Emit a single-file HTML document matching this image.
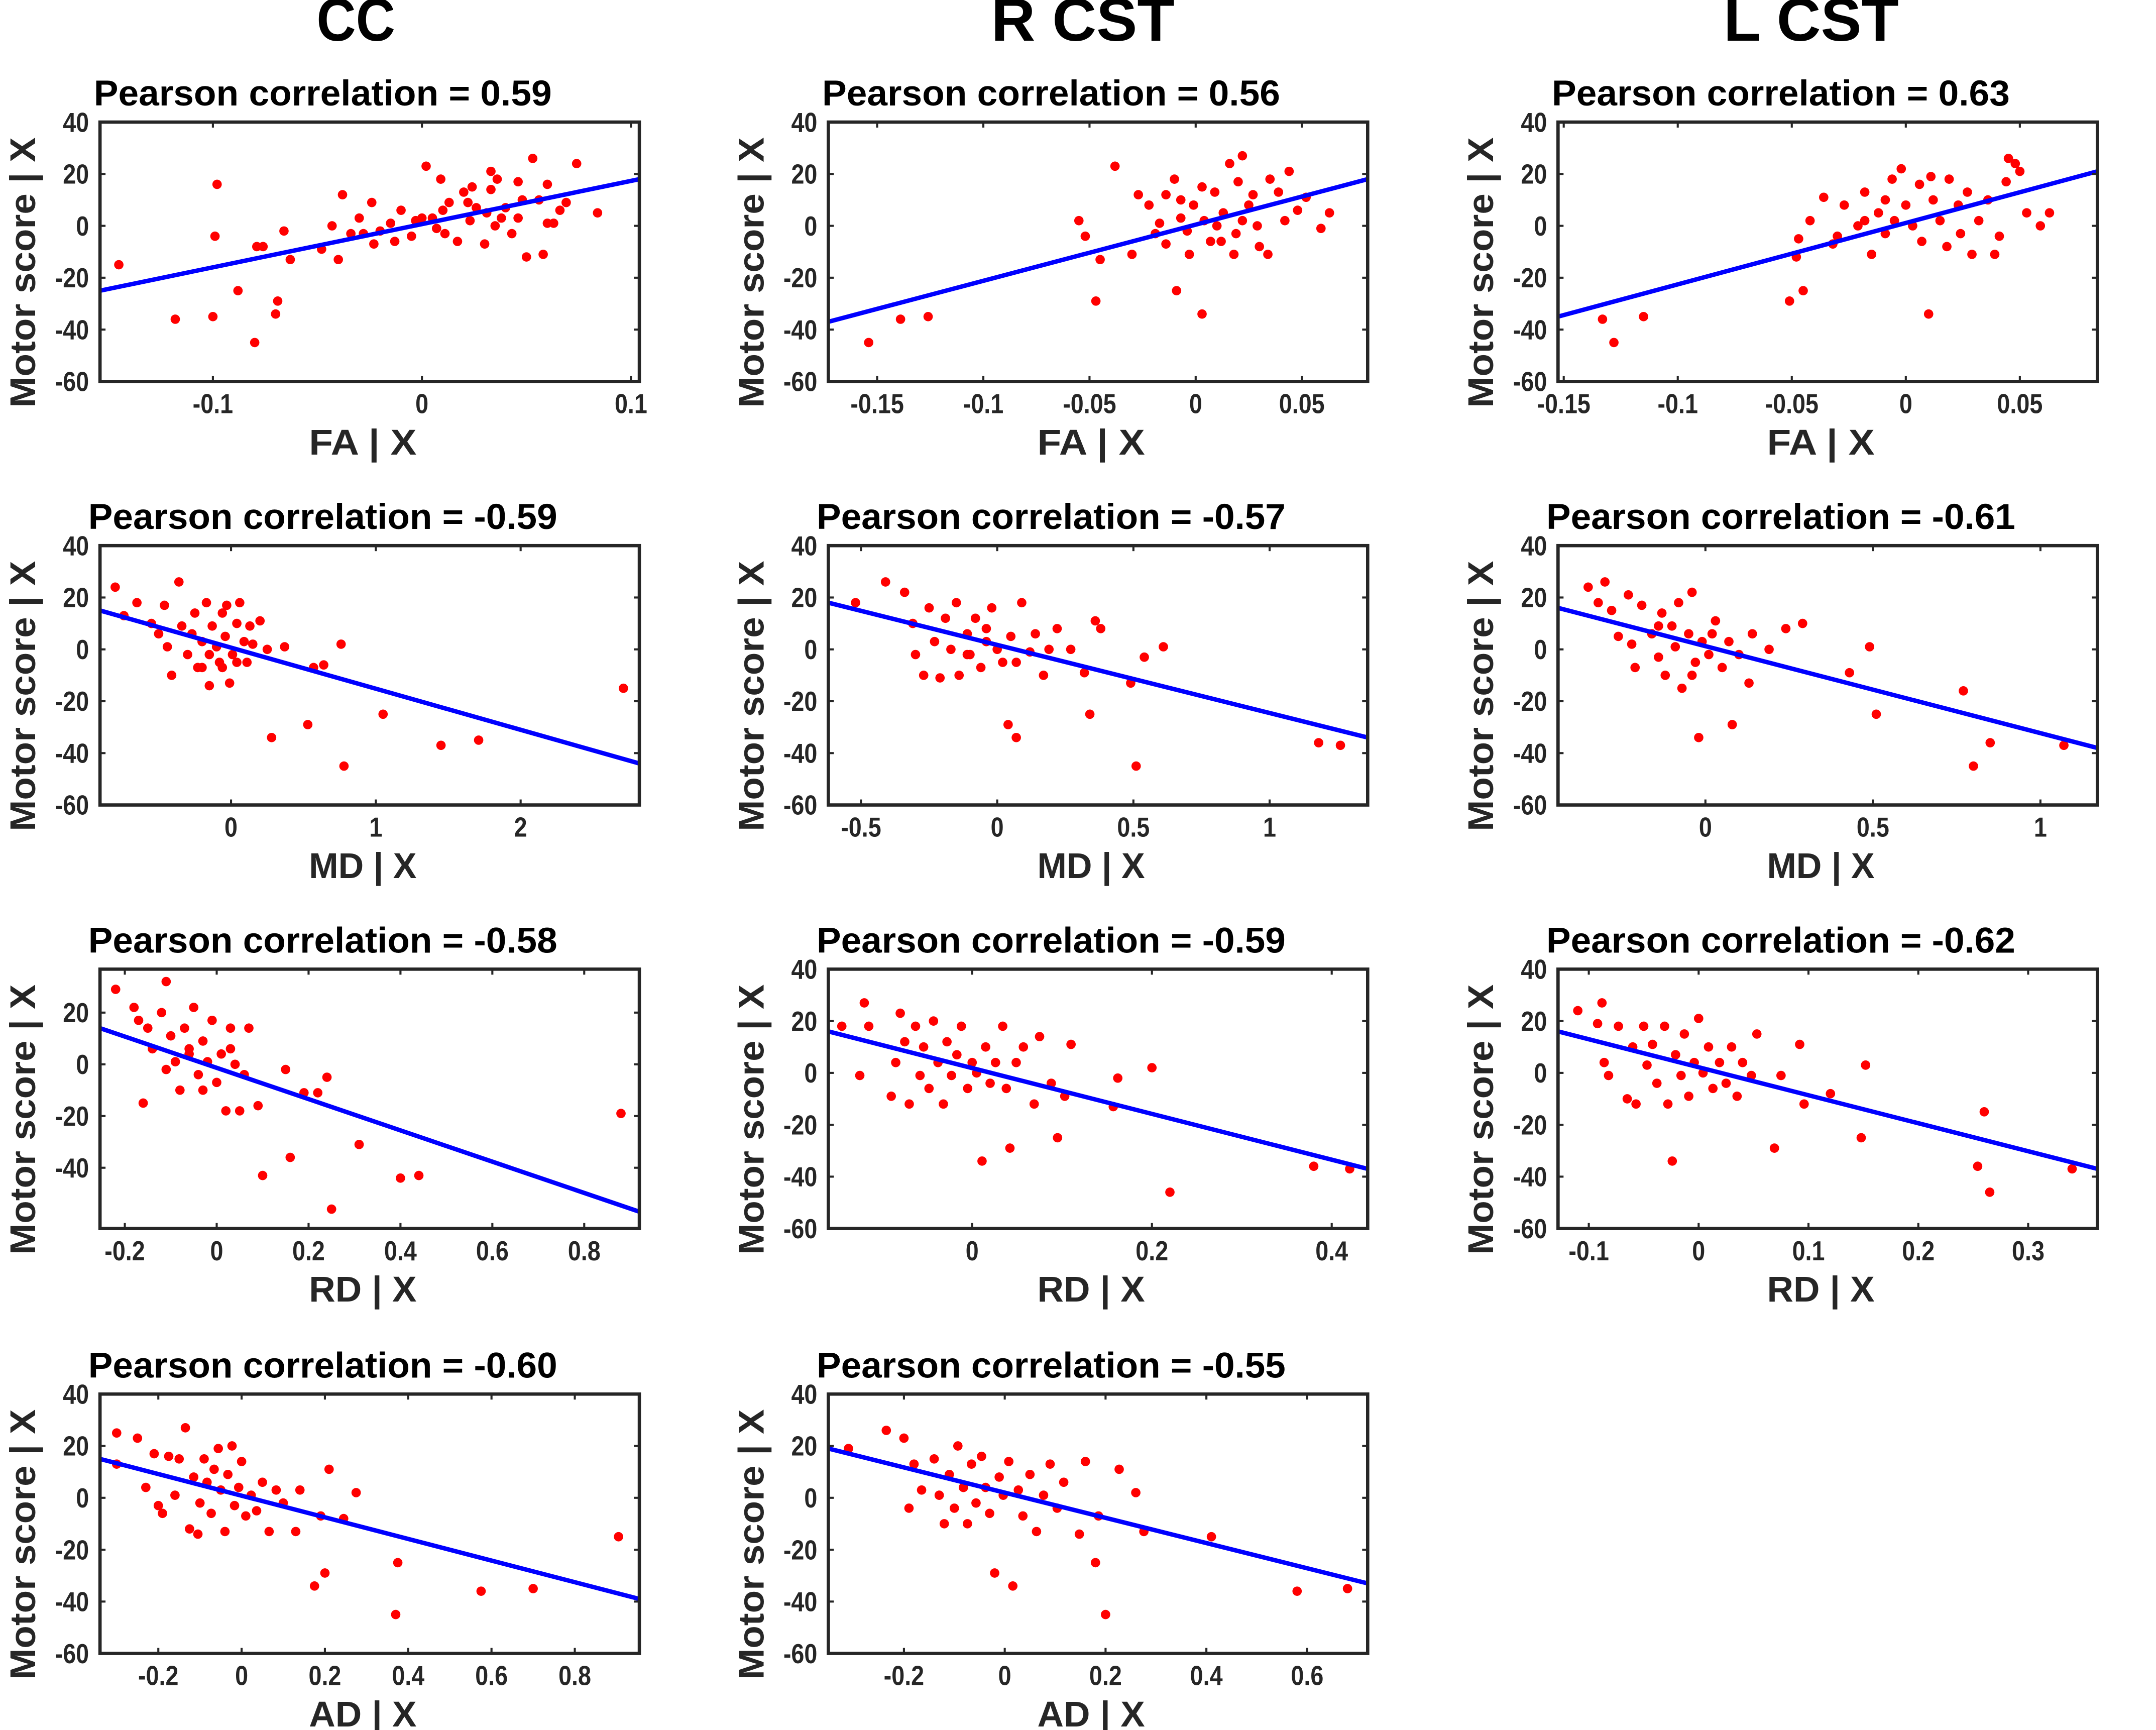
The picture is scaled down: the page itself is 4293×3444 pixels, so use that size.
<!DOCTYPE html>
<html><head><meta charset="utf-8"><style>
html,body{margin:0;padding:0;background:#fff;width:4293px;height:3444px;overflow:hidden;}
svg{display:block;position:absolute;left:0;top:0;}
text{font-family:"Liberation Sans Narrow","Liberation Sans",sans-serif;font-weight:bold;}
</style></head><body>
<svg id="fig" width="4293" height="3444" viewBox="-1.5 0.5 1563 1254" preserveAspectRatio="none" xmlns="http://www.w3.org/2000/svg">
<rect x="-10" y="-10" width="1600" height="1300" fill="#fff"/>
<text x="256.5" y="30" font-size="44" text-anchor="middle" textLength="57" lengthAdjust="spacingAndGlyphs">CC</text>
<text x="783.5" y="30" font-size="44" text-anchor="middle" textLength="133" lengthAdjust="spacingAndGlyphs">R CST</text>
<text x="1311.5" y="30" font-size="44" text-anchor="middle" textLength="127" lengthAdjust="spacingAndGlyphs">L CST</text>
</svg>
<script>
// ---- data (data units) ----
const pts_cc_fa=[[-0.145,-15],[-0.118,-36],[-0.1,-35],[-0.098,16],[-0.099,-4],[-0.088,-25],[-0.079,-8],[-0.076,-8],[-0.080,-45],[-0.069,-29],[-0.07,-34],[-0.066,-2],[-0.063,-13],[-0.048,-9],[-0.043,0],[-0.038,12],[-0.040,-13],[-0.030,3],[-0.024,9],[-0.023,-7],[-0.015,1],[-0.01,6],[-0.005,-4],[0.002,23],[0.005,3],[0.009,18],[0.013,9],[0.017,-6],[0.02,13],[0.023,2],[0.026,7],[0.03,-7],[0.033,14],[0.036,18],[0.04,7],[0.043,-3],[0.048,10],[0.05,-12],[0.053,26],[0.056,10],[0.058,-11],[0.06,16],[0.063,1],[0.066,6],[0.069,9],[0.074,24],[0.084,5],[-0.003,2],[0.007,-1],[0.01,6],[0.022,9],[0.024,15],[0.031,5],[0.035,0],[0.011,-3],[0,3],[-0.013,-6],[-0.02,-2],[-0.028,-3],[-0.034,-3],[0.038,3],[0.046,3],[0.06,1],[0.046,17],[0.033,21]];
const pts_r_fa=[[-0.154,-45],[-0.139,-36],[-0.126,-35],[-0.055,2],[-0.052,-4],[-0.047,-29],[-0.045,-13],[-0.038,23],[-0.03,-11],[-0.027,12],[-0.022,8],[-0.019,-3],[-0.017,1],[-0.014,12],[-0.010,18],[-0.009,-25],[-0.007,3],[-0.004,-2],[-0.001,8],[0.003,-34],[0.004,2],[0.007,-6],[0.009,13],[0.01,0],[0.013,5],[0.016,24],[0.018,-11],[0.019,-3],[0.02,17],[0.022,27],[0.025,8],[0.029,0],[0.03,-8],[0.034,-11],[0.035,18],[0.039,13],[0.042,2],[0.044,21],[0.048,6],[0.052,11],[0.059,-1],[0.063,5],[-0.014,-7],[-0.003,-11],[0.012,-6],[0.022,2],[-0.007,10],[0.003,15],[0.027,12]];
const pts_l_fa=[[-0.133,-36],[-0.128,-45],[-0.115,-35],[-0.048,-12],[-0.051,-29],[-0.045,-25],[-0.047,-5],[-0.042,2],[-0.036,11],[-0.032,-7],[-0.03,-4],[-0.027,8],[-0.021,0],[-0.018,13],[-0.015,-11],[-0.012,5],[-0.009,-3],[-0.006,18],[-0.005,2],[-0.002,22],[0,8],[0.003,0],[0.006,16],[0.007,-6],[0.01,-34],[0.012,10],[0.015,2],[0.018,-8],[0.019,18],[0.023,8],[0.024,-3],[0.027,13],[0.029,-11],[0.032,2],[0.036,10],[0.039,-11],[0.041,-4],[0.044,17],[0.045,26],[0.048,24],[0.05,21],[0.053,5],[0.059,0],[0.063,5],[0.011,19],[-0.018,2],[-0.009,10]];
const pts_cc_md=[[-0.8,24],[-0.74,13],[-0.65,18],[-0.55,10],[-0.5,6],[-0.46,17],[-0.44,1],[-0.41,-10],[-0.36,26],[-0.34,9],[-0.3,-2],[-0.25,14],[-0.23,-7],[-0.2,3],[-0.17,18],[-0.15,-14],[-0.13,9],[-0.1,1],[-0.08,-5],[-0.06,14],[-0.04,5],[-0.01,-13],[0.01,-2],[0.04,10],[0.06,18],[0.09,3],[0.11,-5],[0.15,2],[0.2,11],[0.25,0],[0.28,-34],[0.37,1],[0.53,-29],[0.57,-7],[0.64,-6],[0.76,2],[0.78,-45],[1.05,-25],[1.45,-37],[1.71,-35],[2.71,-15],[-0.27,6],[-0.15,-2],[-0.06,-7],[0.04,-5],[0.13,9],[-0.03,17],[-0.2,-7]];
const pts_r_md=[[-0.52,18],[-0.41,26],[-0.34,22],[-0.31,10],[-0.3,-2],[-0.27,-10],[-0.25,16],[-0.23,3],[-0.21,-11],[-0.19,12],[-0.17,0],[-0.15,18],[-0.14,-10],[-0.11,6],[-0.1,-2],[-0.08,12],[-0.06,-7],[-0.04,3],[-0.02,16],[0,0],[0.02,-5],[0.04,-29],[0.05,5],[0.07,-34],[0.09,18],[0.12,-1],[0.14,6],[0.17,-10],[0.19,0],[0.22,8],[0.27,0],[0.32,-9],[0.34,-25],[0.36,11],[0.38,8],[0.49,-13],[0.51,-45],[0.54,-3],[0.61,1],[1.18,-36],[1.26,-37],[-0.11,-2],[-0.04,8],[0.07,-5]];
const pts_l_md=[[-0.35,24],[-0.32,18],[-0.3,26],[-0.28,15],[-0.26,5],[-0.23,21],[-0.22,2],[-0.21,-7],[-0.19,17],[-0.16,6],[-0.14,-3],[-0.13,14],[-0.12,-10],[-0.1,9],[-0.09,1],[-0.08,18],[-0.07,-15],[-0.05,6],[-0.04,22],[-0.03,-5],[-0.02,-34],[-0.01,3],[0.01,-2],[0.03,11],[0.05,-7],[0.07,3],[0.08,-29],[0.1,-2],[0.13,-13],[0.14,6],[0.19,0],[0.24,8],[0.29,10],[0.43,-9],[0.49,1],[0.51,-25],[0.77,-16],[0.8,-45],[0.85,-36],[1.07,-37],[0.02,6],[-0.14,9],[-0.04,-10]];
const pts_cc_rd=[[-0.22,29],[-0.18,22],[-0.17,17],[-0.15,14],[-0.16,-15],[-0.14,6],[-0.12,20],[-0.11,32],[-0.1,11],[-0.09,1],[-0.08,-10],[-0.07,14],[-0.06,4],[-0.05,22],[-0.04,-4],[-0.03,9],[-0.02,1],[-0.01,17],[0,-7],[0.01,4],[0.02,-18],[0.03,6],[0.04,0],[0.05,-18],[0.06,-4],[0.07,14],[0.09,-16],[0.1,-43],[0.15,-2],[0.16,-36],[0.19,-11],[0.22,-11],[0.24,-5],[0.25,-56],[0.31,-31],[0.4,-44],[0.44,-43],[0.88,-19],[-0.06,6],[-0.03,-10],[0.03,14],[-0.11,-2]];
const pts_r_rd=[[-0.145,18],[-0.12,27],[-0.115,18],[-0.125,-1],[-0.09,-9],[-0.085,4],[-0.08,23],[-0.075,12],[-0.07,-12],[-0.063,18],[-0.058,-1],[-0.054,10],[-0.048,-6],[-0.043,20],[-0.038,4],[-0.032,-12],[-0.028,12],[-0.023,-1],[-0.017,7],[-0.012,18],[-0.005,-6],[0,4],[0.005,0],[0.011,-34],[0.015,10],[0.02,-4],[0.026,4],[0.034,18],[0.038,-6],[0.042,-29],[0.049,4],[0.057,10],[0.069,-12],[0.075,14],[0.088,-4],[0.095,-25],[0.103,-9],[0.11,11],[0.157,-13],[0.162,-2],[0.2,2],[0.22,-46],[0.38,-36],[0.42,-37]];
const pts_l_rd=[[-0.11,24],[-0.092,19],[-0.088,27],[-0.086,4],[-0.082,-1],[-0.073,18],[-0.065,-10],[-0.06,10],[-0.057,-12],[-0.05,18],[-0.047,3],[-0.042,11],[-0.038,-4],[-0.031,18],[-0.028,-12],[-0.024,-34],[-0.021,7],[-0.016,-1],[-0.013,15],[-0.009,-9],[-0.004,4],[0,21],[0.004,0],[0.009,10],[0.013,-6],[0.019,4],[0.025,-4],[0.03,10],[0.035,-9],[0.04,4],[0.048,-1],[0.053,15],[0.069,-29],[0.075,-1],[0.092,11],[0.096,-12],[0.12,-8],[0.148,-25],[0.152,3],[0.254,-36],[0.26,-15],[0.265,-46],[0.34,-37]];
const pts_cc_ad=[[-0.3,25],[-0.3,13],[-0.25,23],[-0.23,4],[-0.21,17],[-0.2,-3],[-0.19,-6],[-0.175,16],[-0.16,1],[-0.15,15],[-0.135,27],[-0.125,-12],[-0.115,8],[-0.105,-14],[-0.1,-2],[-0.09,15],[-0.083,6],[-0.073,-6],[-0.066,11],[-0.056,19],[-0.05,3],[-0.04,-13],[-0.033,9],[-0.023,20],[-0.017,-3],[-0.007,4],[0,14],[0.01,-7],[0.023,1],[0.036,-5],[0.05,6],[0.066,-13],[0.083,3],[0.1,-2],[0.13,-13],[0.14,3],[0.175,-34],[0.19,-7],[0.2,-29],[0.21,11],[0.245,-8],[0.275,2],[0.375,-25],[0.37,-45],[0.575,-36],[0.7,-35],[0.905,-15]];
const pts_r_ad=[[-0.31,19],[-0.235,26],[-0.2,23],[-0.19,-4],[-0.18,13],[-0.165,3],[-0.14,15],[-0.13,1],[-0.12,-10],[-0.11,9],[-0.1,-4],[-0.093,20],[-0.082,4],[-0.074,-10],[-0.066,13],[-0.057,-2],[-0.046,16],[-0.038,4],[-0.03,-6],[-0.02,-29],[-0.011,8],[-0.003,1],[0.008,14],[0.016,-34],[0.027,3],[0.036,-7],[0.05,9],[0.063,-13],[0.077,1],[0.09,13],[0.104,-4],[0.117,6],[0.148,-14],[0.16,14],[0.18,-25],[0.186,-7],[0.2,-45],[0.227,11],[0.26,2],[0.276,-13],[0.41,-15],[0.58,-36],[0.68,-35]];
// fit lines: y value at left and right x-limit
const fit_left=[-25,-37,-35,15,18,16,14,16,16,15,19];
const fit_right=[18,18,21,-44,-34,-38,-57,-37,-37,-39,-33];
const correlations=["0.59","0.56","0.63","-0.59","-0.57","-0.61","-0.58","-0.59","-0.62","-0.60","-0.55"];
const xlims=[[-0.154,0.104],[-0.173,0.081],[-0.1525,0.084],[-0.905,2.82],[-0.62,1.36],[-0.44,1.17],[-0.254,0.92],[-0.16,0.44],[-0.128,0.363],[-0.34,0.955],[-0.35,0.72]];
const xticks=[[-0.1,0,0.1],[-0.15,-0.1,-0.05,0,0.05],[-0.15,-0.1,-0.05,0,0.05],[0,1,2],[-0.5,0,0.5,1],[0,0.5,1],[-0.2,0,0.2,0.4,0.6,0.8],[0,0.2,0.4],[-0.1,0,0.1,0.2,0.3],[-0.2,0,0.2,0.4,0.6,0.8],[-0.2,0,0.2,0.4,0.6]];
const ylimStd=[-60,40], ylimRd=[-63.5,36.8];
const yticksStd=[-60,-40,-20,0,20,40], yticksRd=[-40,-20,0,20];
const xnames=["FA","FA","FA","MD","MD","MD","RD","RD","RD","AD","AD"];
const allPts=[pts_cc_fa,pts_r_fa,pts_l_fa,pts_cc_md,pts_r_md,pts_l_md,pts_cc_rd,pts_r_rd,pts_l_rd,pts_cc_ad,pts_r_ad];

// ---- layout ----
const colX=[71,599,1128], rowY=[89,396,703,1011], W=391, H=188;
const NS="http://www.w3.org/2000/svg";
const svg=document.getElementById('fig');
function mk(tag,attrs,parent){const e=document.createElementNS(NS,tag);for(const k in attrs)e.setAttribute(k,attrs[k]);(parent||svg).appendChild(e);return e;}
function condense(t,f){try{const L=t.getComputedTextLength();if(L>0){t.setAttribute('textLength',L*f);t.setAttribute('lengthAdjust','spacingAndGlyphs');}}catch(e){}}
allPts.forEach((pts,i)=>{
  const r=Math.floor(i/3), c=i%3;
  const x0=colX[c], y0=rowY[r];
  const xl=xlims[i], yl=(i===6)?ylimRd:ylimStd, yt=(i===6)?yticksRd:yticksStd;
  const sx=v=>x0+(v-xl[0])/(xl[1]-xl[0])*W;
  const sy=v=>y0+H-(v-yl[0])/(yl[1]-yl[0])*H;
  const g=mk('g',{});
  
  
  const cp='clip'+i;
  const cl=mk('clipPath',{id:cp},g);mk('rect',{x:x0,y:y0,width:W,height:H},cl);
  const pg=mk('g',{'clip-path':'url(#'+cp+')'},g);
  pts.forEach(p=>{const d=mk('circle',{cx:sx(p[0]),cy:sy(p[1]),r:3.4,fill:'#ff0000'},pg);
    
    });
  const ln=mk('line',{x1:sx(xl[0]),y1:sy(fit_left[i]),x2:sx(xl[1]),y2:sy(fit_right[i]),stroke:'#0000ff','stroke-width':3.2},pg);
  
  
  const ax=mk('rect',{x:x0,y:y0,width:W,height:H,fill:'none',stroke:'#262626','stroke-width':2.4},g);
  
  
  xticks[i].forEach(t=>{const X=sx(t);
    mk('line',{x1:X,y1:y0+H,x2:X,y2:y0+H-4,stroke:'#262626','stroke-width':1.5},g);
    mk('line',{x1:X,y1:y0,x2:X,y2:y0+4,stroke:'#262626','stroke-width':1.5},g);
    const tl=mk('text',{x:X,y:y0+H+23,'font-size':20,'text-anchor':'middle',fill:'#262626'},g);
    tl.textContent=String(t);
    
    
    condense(tl,0.85);});
  yt.forEach(t=>{const Y=sy(t);
    mk('line',{x1:x0,y1:Y,x2:x0+4,y2:Y,stroke:'#262626','stroke-width':1.5},g);
    mk('line',{x1:x0+W,y1:Y,x2:x0+W-4,y2:Y,stroke:'#262626','stroke-width':1.5},g);
    const tl=mk('text',{x:x0-8,y:Y+7,'font-size':20,'text-anchor':'end',fill:'#262626'},g);
    tl.textContent=String(t);
    
    
    condense(tl,0.85);});
  const neg=correlations[i].charAt(0)==='-';
  const ti=mk('text',{x:x0+W/2-34,y:y0-12,'font-size':26,'text-anchor':'middle',fill:'#000',textLength:neg?340:332,lengthAdjust:'spacingAndGlyphs'},g);
  ti.textContent='Pearson correlation = '+correlations[i];
  
  
  const xlab=mk('text',{x:x0+W/2-5,y:y0+H+53,'font-size':26,'text-anchor':'middle',fill:'#262626',textLength:78,lengthAdjust:'spacingAndGlyphs'},g);
  xlab.textContent=xnames[i]+' | X';
  
  
  const cy=y0+H/2+15, cx=x0-47;
  const ylab=mk('text',{x:cx,y:cy,'font-size':26,'text-anchor':'middle',fill:'#262626',textLength:196,lengthAdjust:'spacingAndGlyphs',transform:'rotate(-90 '+cx+' '+cy+')'},g);
  ylab.textContent='Motor score | X';
  
  
});
</script>
</body></html>
